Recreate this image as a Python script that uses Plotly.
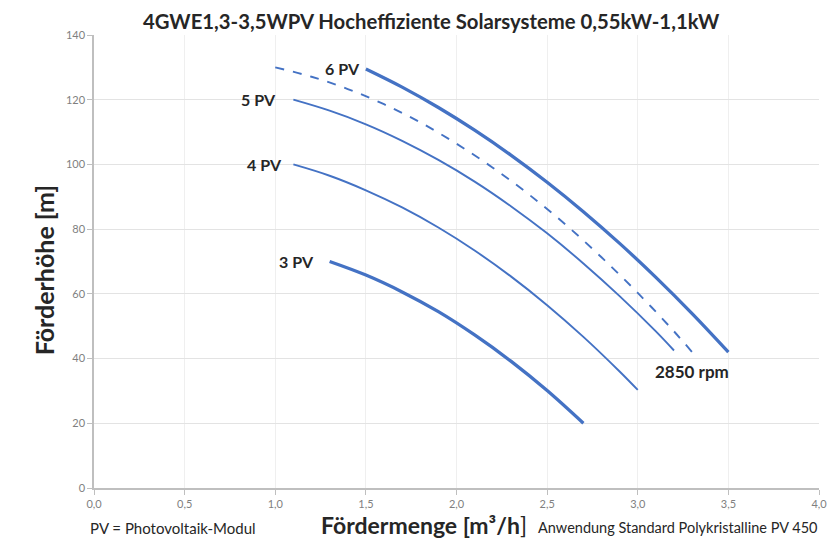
import plotly.graph_objects as go

# ---- data ----
q_3pv = [1.3, 1.5, 1.7, 1.9, 2.1, 2.3, 2.5, 2.7]
h_3pv = [70.0, 65.8, 60.6, 54.5, 47.3, 39.2, 30.1, 20.0]

q_4pv = [1.1, 1.3, 1.5, 1.7, 1.9, 2.1, 2.3, 2.5, 2.7, 2.9, 3.0]
h_4pv = [100.0, 96.5, 92.0, 86.7, 80.5, 73.4, 65.4, 56.5, 46.7, 36.0, 30.3]

q_5pv = [1.1, 1.3, 1.5, 1.7, 1.9, 2.1, 2.3, 2.5, 2.7, 2.9, 3.1, 3.2]
h_5pv = [120.0, 116.6, 112.4, 107.3, 101.4, 94.7, 87.1, 78.7, 69.4, 59.3, 48.4, 42.5]

q_2850 = [1.0, 1.2, 1.4, 1.6, 1.8, 2.0, 2.2, 2.4, 2.6, 2.8, 3.0, 3.2, 3.3]
h_2850 = [130.0, 127.1, 123.3, 118.6, 113.0, 106.4, 99.0, 90.7, 81.5, 71.3, 60.3, 48.4, 42.0]

q_6pv = [1.5, 1.7, 1.9, 2.1, 2.3, 2.5, 2.7, 2.9, 3.1, 3.3, 3.5]
h_6pv = [129.5, 123.9, 117.6, 110.6, 102.9, 94.5, 85.4, 75.6, 65.1, 53.9, 42.0]

x_tick_vals = [0, 0.5, 1.0, 1.5, 2.0, 2.5, 3.0, 3.5, 4.0]
x_tick_text = ["0,0", "0,5", "1,0", "1,5", "2,0", "2,5", "3,0", "3,5", "4,0"]
y_tick_vals = [0, 20, 40, 60, 80, 100, 120, 140]

title_text = "4GWE1,3-3,5WPV Hocheffiziente Solarsysteme 0,55kW-1,1kW"

BLUE = "#4472C4"
FONT = "Lato"
DARK = "#262626"

fig = go.Figure()

series = [
    ("3 PV", q_3pv, h_3pv, 3.3, "solid"),
    ("4 PV", q_4pv, h_4pv, 1.9, "solid"),
    ("5 PV", q_5pv, h_5pv, 1.9, "solid"),
    ("2850 rpm", q_2850, h_2850, 1.9, "dash"),
    ("6 PV", q_6pv, h_6pv, 3.3, "solid"),
]
for name, q, h, w, dash in series:
    fig.add_trace(go.Scatter(
        x=q, y=h, mode="lines", name=name,
        line=dict(color=BLUE, width=w, dash=dash, shape="spline", smoothing=1.0),
        hoverinfo="x+y+name",
    ))

# curve labels, anchored at curve starts
label_specs = [
    ("3 PV", q_3pv, h_3pv, -14),
    ("4 PV", q_4pv, h_4pv, -9),
    ("5 PV", q_5pv, h_5pv, -15),
    ("6 PV", q_6pv, h_6pv, -4),
]
for txt, q, h, xs in label_specs:
    fig.add_annotation(x=q[0], y=h[0], xref="x", yref="y", text="<b>%s</b>" % txt,
                       showarrow=False, xanchor="right", yanchor="middle", xshift=xs,
                       font=dict(family=FONT, size=16, color=DARK))

fig.add_annotation(x=q_2850[-1], y=h_2850[-1], xref="x", yref="y", text="<b>2850 rpm</b>",
                   showarrow=False, xanchor="center", yanchor="middle", yshift=-19,
                   font=dict(family=FONT, size=17, color=DARK))

# bottom texts and axis titles
fig.add_annotation(x=0.4547, y=-0.0817, xref="paper", yref="paper",
                   text="<b>Fördermenge [m³/h</b>]", showarrow=False,
                   xanchor="center", yanchor="middle",
                   font=dict(family=FONT, size=23, color=DARK))
fig.add_annotation(x=-0.0082, y=-0.0883, xref="paper", yref="paper",
                   text="PV = Photovoltaik-Modul", showarrow=False,
                   xanchor="left", yanchor="middle",
                   font=dict(family=FONT, size=15, color=DARK))
fig.add_annotation(x=1.0, y=-0.0883, xref="paper", yref="paper",
                   text="Anwendung Standard Polykristalline PV 450", showarrow=False,
                   xanchor="right", yanchor="middle",
                   font=dict(family=FONT, size=14.5, color=DARK))
fig.add_annotation(x=-0.0686, y=0.481, xref="paper", yref="paper",
                   text="<b>Förderhöhe [m]</b>", showarrow=False, textangle=-90,
                   xanchor="center", yanchor="middle",
                   font=dict(family=FONT, size=25, color=DARK))

fig.update_layout(
    width=831, height=536,
    margin=dict(l=86, r=16, t=27, b=56),
    paper_bgcolor="white",
    plot_bgcolor="white",
    showlegend=False,
    title=dict(text="<b>%s</b>" % title_text, x=0.465, xref="paper", xanchor="center",
               y=1 - 14 / 536, yref="container", yanchor="middle",
               font=dict(family=FONT, size=20.3, color=DARK)),
    font=dict(family=FONT),
)
fig.update_xaxes(
    range=[0, 4], tickvals=x_tick_vals, ticktext=x_tick_text,
    showgrid=True, gridcolor="#efefef", gridwidth=1,
    showline=True, linecolor="#bfbfbf", linewidth=1.5,
    ticks="outside", ticklen=5, tickcolor="#bfbfbf",
    tickfont=dict(family=FONT, size=11, color="#7f7f7f"),
    zeroline=False, fixedrange=True,
)
fig.update_yaxes(
    range=[0, 140], tickvals=y_tick_vals,
    showgrid=True, gridcolor="#e3e3e3", gridwidth=1,
    showline=True, linecolor="#bfbfbf", linewidth=1.5,
    ticks="outside", ticklen=5, tickcolor="#bfbfbf",
    tickfont=dict(family=FONT, size=11, color="#7f7f7f"),
    zeroline=False, fixedrange=True,
)

fig.write_html("out.html")
